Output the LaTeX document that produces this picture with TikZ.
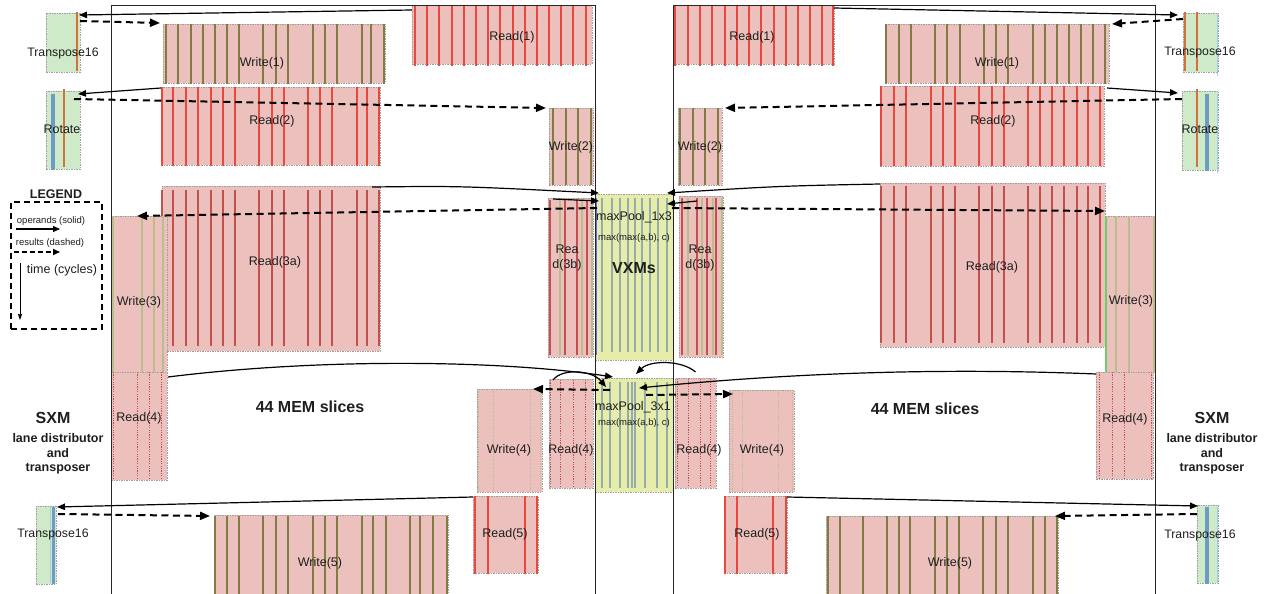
\documentclass[tikz,border=0pt]{standalone}
\usepackage{fontspec}
\setmainfont{Liberation Sans}
\usetikzlibrary{arrows.meta,fit,calc}
\definecolor{pinkf}{RGB}{236,193,189}
\definecolor{greenf}{RGB}{206,234,200}
\definecolor{yellowf}{RGB}{230,236,170}
\definecolor{redl}{RGB}{232,72,62}
\definecolor{dredl}{RGB}{196,80,78}
\definecolor{olivel}{RGB}{128,124,68}
\definecolor{khaki}{RGB}{186,190,140}
\definecolor{vxl}{RGB}{150,172,170}
\definecolor{orangel}{RGB}{210,112,62}
\definecolor{bluel}{RGB}{110,155,195}
\definecolor{lbluel}{RGB}{160,205,235}
\definecolor{txt}{RGB}{30,30,30}
\newcommand\mystripes[4]{\foreach \xx in {#4}{\draw[#1] (\xx,#2) -- (\xx,#3);}}
\begin{document}
\begin{tikzpicture}[x=1pt,y=-1pt,
  box/.style={draw=gray!75, dash pattern=on 1.5pt off 1pt, line width=0.5pt, inner sep=0pt, outer sep=0pt},
  rbox/.style={box, fill=pinkf},
  gbox/.style={box, fill=greenf},
  ybox/.style={box, fill=yellowf},
  frame/.style={draw=black!85, line width=0.8pt, inner sep=0pt, outer sep=0pt},
  rl/.style={draw=redl, line width=1.5pt},
  drl/.style={draw=dredl, line width=1.4pt},
  ol/.style={draw=olivel, line width=1.5pt},
  kl/.style={draw=khaki, line width=1.2pt},
  dotr/.style={draw=dredl, line width=1pt, dash pattern=on 1.2pt off 1.2pt},
  dotk/.style={draw=khaki, line width=1pt, dash pattern=on 1.2pt off 1.2pt},
  vl/.style={draw=vxl, line width=1.3pt},
  op/.style={line width=1.2pt, -{Triangle[length=8pt,width=6.5pt]}},
  res/.style={line width=2pt, dash pattern=on 7pt off 4.5pt, -{Triangle[length=10pt,width=8pt]}},
  lbl/.style={font=\fontsize{12.5}{15}\selectfont, text=txt, inner sep=0pt},
  tlbl/.style={font=\fontsize{12.3}{15}\selectfont, text=txt, inner sep=0pt},
  sml/.style={font=\fontsize{9.5}{11}\selectfont, text=txt, inner sep=0pt},
  big/.style={font=\bfseries\fontsize{16}{19}\selectfont, text=txt, inner sep=0pt},
  mid/.style={font=\bfseries\fontsize{12.5}{15}\selectfont, text=txt, inner sep=0pt}
]
\useasboundingbox (0,0) rectangle (1267,594);

% ---------- green SXM boxes ----------
\node[gbox, fit={(46,13) (80,72)}] (t16a) {};
\draw[orangel, line width=1.3pt] (77,12) -- (77,71);
\node[gbox, fit={(46,91) (80,169)}] (rotL) {};
\fill[bluel] (51,94) rectangle (55,170);
\draw[orangel, line width=1.3pt] (64,89) -- (64,167);
\node[gbox, fit={(36,506) (56,584)}] (t16c) {};
\draw[lbluel, line width=1pt] (50,507) -- (50,583);
\fill[bluel] (52,507) rectangle (55,584);

\node[gbox, fit={(1183,13) (1218,72)}] (t16b) {};
\draw[orangel, line width=1.3pt] (1185,12) -- (1185,71);
\draw[orangel, line width=1.3pt] (1197,12) -- (1197,71);
\draw[lbluel, line width=1pt] (1217,14) -- (1217,76);
\node[gbox, fit={(1182,91) (1218,170)}] (rotR) {};
\draw[orangel, line width=1.3pt] (1197,89) -- (1197,167);
\fill[bluel] (1205,94) rectangle (1209,171);
\draw[lbluel, line width=1pt] (1217,94) -- (1217,173);
\node[gbox, fit={(1197,505) (1218,583)}] (t16d) {};
\fill[bluel] (1205,507) rectangle (1209,584);
\draw[lbluel, line width=1pt] (1217,507) -- (1217,584);

% ---------- left MEM boxes ----------
\node[rbox, fit={(163,24) (385,83)}] (w1L) {};
\mystripes{ol}{24}{84}{166,178,191,203,215,227,239,263,276,288,313,325,337,362,371,384}
\node[rbox, fit={(161,87) (380,165)}] (r2L) {};
\mystripes{rl}{87}{166}{162,173,186,198,211,223,235,259,272,284,308,320,332,357,367,379}
\node[rbox, fit={(412,5) (592,64)}] (r1L) {};
\mystripes{rl}{5}{66}{415,427,439,452,464,476,488,500,513,525,537,549,561,573,586}
\node[rbox, fit={(549,108) (593,185)}] (w2L) {};
\mystripes{ol}{108}{185}{553,566,578,591}
\node[rbox, fit={(162,186) (380,351)}] (r3aL) {};
\mystripes{drl}{190}{346}{162,173,186,198,211,223,235,259,272,284,308,320,332,357,367,379}
\node[rbox, fit={(111,216) (167,372)}] (w3L) {};
\mystripes{kl}{216}{372}{113,142,154,163}
\node[rbox, fit={(111,372) (167,480)}] (r4oL) {};
\mystripes{dotr}{372}{480}{113,137,149,161}
\node[rbox, fit={(548,198) (593,357)}] (r3bL) {};
\mystripes{drl}{200}{355}{550,565,577,587}
\mystripes{kl}{200}{355}{560,582,592}
\node[rbox, fit={(549,379) (593,488)}] (r4iL) {};
\mystripes{dotr}{380}{487}{550,560,573,585}
\node[rbox, fit={(477,389) (542,492)}] (w4L) {};
\mystripes{dotk}{389}{492}{478,493,530,540}
\node[rbox, fit={(473,496) (538,573)}] (r5L) {};
\mystripes{rl}{496}{574}{475,488,525,537}
\node[rbox, fit={(214,515) (448,594)}] (w5L) {};
\mystripes{ol}{516}{594}{215,227,239,263,276,288,313,325,337,362,373,386,410,420,433,447}

% ---------- right MEM boxes ----------
\node[rbox, fit={(673,5) (834,64)}] (r1R) {};
\mystripes{rl}{5}{66}{675,688,700,712,725,737,749,761,774,786,798,810,822,833}
\node[rbox, fit={(678,108) (722,185)}] (w2R) {};
\mystripes{ol}{108}{185}{680,693,705,718}
\node[rbox, fit={(679,196) (723,357)}] (r3bR) {};
\mystripes{drl}{198}{355}{682,697,707,716}
\mystripes{kl}{198}{355}{688,702,713,722}
\node[rbox, fit={(675,378) (716,488)}] (r4iR) {};
\mystripes{dotr}{379}{487}{677,688,700,710}
\node[rbox, fit={(729,390) (794,492)}] (w4R) {};
\mystripes{dotk}{390}{492}{732,742,778,792}
\node[rbox, fit={(724,496) (787,573)}] (r5R) {};
\mystripes{rl}{496}{574}{725,737,773,786}
\node[rbox, fit={(826,516) (1058,594)}] (w5R) {};
\mystripes{ol}{516}{594}{828,840,863,887,899,910,935,947,959,983,996,1008,1033,1045,1057}
\node[rbox, fit={(885,24) (1109,83)}] (w1R) {};
\mystripes{ol}{24}{84}{886,899,911,935,947,960,984,996,1008,1033,1045,1057,1069,1081,1093,1105}
\node[rbox, fit={(880,86) (1104,166)}] (r2R) {};
\mystripes{rl}{86}{166}{881,894,906,931,943,955,979,992,1004,1028,1040,1052,1064,1077,1088,1100}
\node[rbox, fit={(880,183) (1105,347)}] (r3aR) {};
\mystripes{drl}{186}{343}{881,894,906,931,943,955,979,992,1004,1028,1040,1052,1064,1077,1088,1100}
\node[rbox, fit={(1105,216) (1155,373)}] (w3R) {};
\draw[green!70!black!60, line width=1.2pt] (1106,216) -- (1106,372);
\mystripes{kl}{216}{372}{1116,1129,1154}
\node[rbox, fit={(1096,372) (1153,479)}] (r4oR) {};
\mystripes{dotr}{372}{479}{1099,1112,1124,1151}

% ---------- VXM boxes ----------
\node[ybox, fit={(595,194) (673,360)}] (vxa) {};
\mystripes{vl}{198}{352}{602,612,620,628,635,642,650,658,667}
\draw[blue!60, line width=1pt] (596,198) -- (596,355);
\node[ybox, fit={(595,378) (673,492)}] (vxb) {};
\mystripes{vl}{382}{488}{602,610,620,628,632,635,645,657,667}

% ---------- frames ----------
\node[frame, fit={(111,5) (595,594)}] (memL) {};
\node[frame, fit={(673,5) (1155,594)}] (memR) {};

% ---------- labels ----------
\node[tlbl] at (63,53) {Transpose16};
\node[lbl] at (62,129) {Rotate};
\node[tlbl] at (53,534) {Transpose16};
\node[tlbl] at (1200,52) {Transpose16};
\node[lbl] at (1200,129) {Rotate};
\node[tlbl] at (1200,535) {Transpose16};

\node[lbl] at (262,63) {Write(1)};
\node[lbl] at (272,121) {Read(2)};
\node[lbl] at (512,37) {Read(1)};
\node[lbl] at (571,147) {Write(2)};
\node[lbl] at (275,262) {Read(3a)};
\node[lbl] at (139,302) {Write(3)};
\node[lbl] at (139,418) {Read(4)};
\node[lbl, align=center, font=\fontsize{12.5}{15}\selectfont] at (567,258) {Rea\\d(3b)};
\node[lbl] at (571,450) {Read(4)};
\node[lbl] at (509,450) {Write(4)};
\node[lbl] at (505,534) {Read(5)};
\node[lbl] at (320,563) {Write(5)};

\node[lbl] at (752,37) {Read(1)};
\node[lbl] at (700,147) {Write(2)};
\node[lbl, align=center, font=\fontsize{12.5}{15}\selectfont] at (700,258) {Rea\\d(3b)};
\node[lbl] at (699,450) {Read(4)};
\node[lbl] at (762,450) {Write(4)};
\node[lbl] at (757,534) {Read(5)};
\node[lbl] at (950,563) {Write(5)};
\node[lbl] at (997,63) {Write(1)};
\node[lbl] at (993,121) {Read(2)};
\node[lbl] at (992,267) {Read(3a)};
\node[lbl] at (1131,301) {Write(3)};
\node[lbl] at (1125,419) {Read(4)};

\node[lbl] at (634,217) {maxPool\_1x3};
\node[sml] at (634,238) {max(max(a,b), c)};
\node[big] at (634,268) {VXMs};
\node[lbl] at (633,407) {maxPool\_3x1};
\node[sml] at (634,423) {max(max(a,b), c)};

\node[big] at (310,407) {44 MEM slices};
\node[big] at (925,409) {44 MEM slices};
\node[big] at (53,418) {SXM};
\node[mid, align=center, font=\bfseries\fontsize{12.5}{14.7}\selectfont] at (58,454) {lane distributor\\and\\transposer};
\node[big] at (1212,418) {SXM};
\node[mid, align=center, font=\bfseries\fontsize{12.5}{14.7}\selectfont] at (1212,454) {lane distributor\\and\\transposer};

% ---------- legend ----------
\node[mid] at (56,194) {LEGEND};
\node[draw, line width=2pt, dash pattern=on 6pt off 4pt, inner sep=0pt, fit={(11,202) (102,329)}] (legend) {};
\node[sml] at (51,221) {operands (solid)};
\node[sml] at (50,243) {results (dashed)};
\node[lbl] at (62,270) {time (cycles)};
\coordinate (lga) at (16,229);
\coordinate (lgb) at (60,229);
\coordinate (lgc) at (14,252);
\coordinate (lgd) at (60,252);
\coordinate (lge) at (20,263);
\coordinate (lgf) at (20,320);
\draw[line width=1.1pt, -{Triangle[length=7pt,width=6pt]}] (lga) -- (lgb);
\draw[line width=1.6pt, dash pattern=on 5pt off 3pt, -{Triangle[length=7pt,width=6pt]}] (lgc) -- (lgd);
\draw[line width=0.7pt, -{Triangle[length=6pt,width=4pt]}] (lge) -- (lgf);

% ---------- connectors (left) ----------
\draw[op] ($(r1L.north west)+(0,5)$) -- ($(t16a.north east)+(-1,2)$);
\draw[res] ($(t16a.north east)+(0,8)$) -- ($(w1L.north west)+(-3,-1)$);
\draw[op] ($(r2L.north west)+(0,1)$) -- ($(rotL.north east)+(-2,3)$);
\draw[res] ($(rotL.north east)+(-6,8)$) -- ($(w2L.north west)+(-3,0)$);
\draw[op] ($(r3aL.north east)+(-8,1)$) .. controls (460,186) .. ($(vxa.north west)+(4,-1)$);
\draw[op] ($(r3bL.north west)+(5,1)$) -- ($(vxa.north west)+(4,7)$);
\draw[res] ($(vxa.north west)+(2,14)$) -- ($(w3L.north)+(-2,0)$);
% right
\draw[op] ($(r3aR.north west)+(0,1)$) .. controls (780,186) .. ($(vxa.north east)+(-6,-1)$);
\draw[op] ($(r3bR.north west)+(18,5)$) -- ($(vxa.north east)+(-6,10)$);
\draw[res] ($(vxa.north east)+(-1,14)$) -- ($(w3R.north west)+(0,-5)$);
\draw[op] ($(r1R.north east)+(0,3)$) -- ($(t16b.north west)+(-5,2)$);
\draw[res] ($(t16b.north west)+(0,6)$) -- ($(w1R.north east)+(3,0)$);
\draw[op] ($(r2R.north east)+(3,2)$) -- ($(rotR.north west)+(-4,2)$);
\draw[res] ($(rotR.north west)+(0,8)$) -- ($(w2R.north east)+(3,0)$);

% ---------- connectors (bottom) ----------
\draw[op] ($(r4oL.north east)+(1,5)$) .. controls (320,358) and (500,360) .. ($(vxb.north west)+(18,-1)$);
\draw[op] ($(r4iL.north west)+(4,1)$) .. controls (562,368) and (592,370) .. ($(vxb.north west)+(11,9)$);
\draw[op] ($(r4iR.north)+(0,-6)$) .. controls (682,360) and (650,360) .. ($(vxb.north west)+(41,-4)$);
\draw[op] ($(r4oR.north west)+(0,2)$) .. controls (950,368) and (800,372) .. ($(vxb.north west)+(44,10)$);
\draw[res] ($(vxb.north west)+(15,12)$) -- ($(w4L.north east)+(-9,0)$);
\draw[res] ($(vxb.north west)+(51,17)$) -- ($(w4R.north west)+(4,4)$);
\draw[op] ($(r5L.north west)+(0,1)$) -- ($(t16c.north east)+(1,1)$);
\draw[res] ($(t16c.north east)+(2,8)$) -- ($(w5L.north west)+(-4,1)$);
\draw[op] ($(r5R.north east)+(0,1)$) -- ($(t16d.north west)+(1,1)$);
\draw[res] ($(t16d.north west)+(0,9)$) -- ($(w5R.north east)+(-3,0)$);
\end{tikzpicture}
\end{document}
